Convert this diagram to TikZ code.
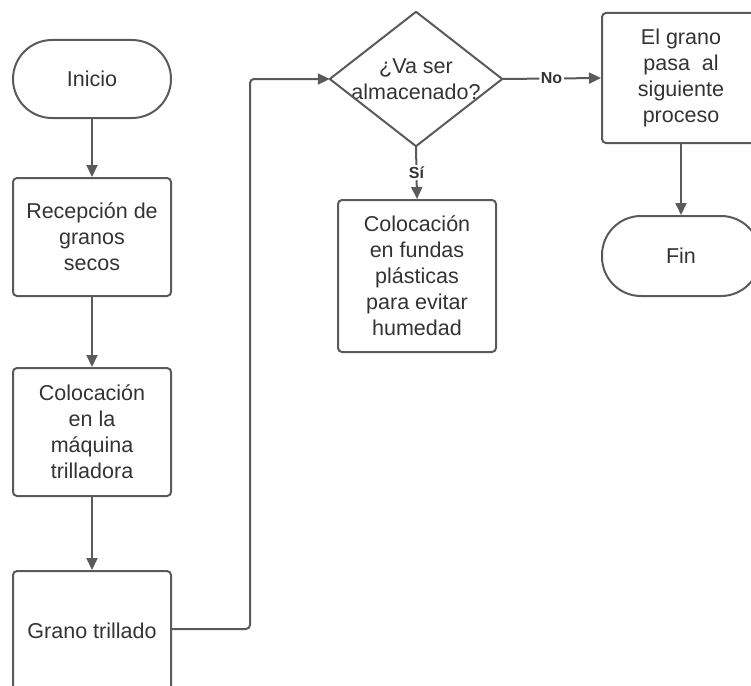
\documentclass[tikz,border=0pt]{standalone}
\usepackage{fontspec}
\setmainfont{Liberation Sans}
\usetikzlibrary{arrows.meta}
\definecolor{edge}{HTML}{5A5A5A}
\definecolor{ink}{HTML}{333333}
\begin{document}
\begin{tikzpicture}[x=1pt,y=-1pt,
  font=\fontsize{21.5}{26}\selectfont, text=ink,
  every node/.style={align=center, inner sep=0pt},
  procbox/.style={draw=edge, line width=2pt, rounded corners=4pt,
                  minimum width=158pt},
  terminal/.style={draw=edge, line width=2pt, rounded corners=39pt,
                   minimum width=158pt, minimum height=78pt},
  flow/.style={draw=edge, line width=2pt, rounded corners=4pt,
               -{Triangle[length=12pt,width=11pt]}},
  tag/.style={fill=white, inner sep=1.5pt, font=\fontsize{16}{18}\selectfont\bfseries}]
\useasboundingbox (0,0) rectangle (751,685);

% left column
\node[terminal] (inicio) at (92,79) {Inicio};
\node[procbox, minimum height=118pt] (recep) at (92,237) {Recepción de\\granos\\secos};
\node[procbox, minimum height=128pt] (coloc) at (92,432) {Colocación\\en la\\máquina\\trilladora};
\node[procbox, minimum height=124pt] (trill) at (92,633) {\raisebox{5pt}{Grano trillado}};

% decision
\node[minimum width=172pt, minimum height=134pt] (q) at (416,79) {¿Va ser\\almacenado?};
\draw[edge, line width=2pt, line join=round] (q.west) -- (q.north) -- (q.east) -- (q.south) -- cycle;

% middle and right columns
\node[procbox, minimum height=152pt] (fundas) at (417,276) {Colocación\\en fundas\\plásticas\\para evitar\\humedad};
\node[procbox, minimum height=130pt] (pasa) at (681,78) {El grano\\pasa\ \ al\\siguiente\\proceso};
\node[terminal, minimum height=80pt] (fin) at (681,256) {Fin};

% connectors
\draw[flow] (inicio.south) -- (recep.north);
\draw[flow] (recep.south) -- (coloc.north);
\draw[flow] (coloc.south) -- (trill.north);
\draw[flow] (trill.east |- 0,629) -- (250,629) -- (250,79) -- (q.west);
\draw[flow] (q.south) -- node[tag] {Sí} (fundas.north);
\draw[flow] (q.east) -- node[tag] {No} (pasa.west);
\draw[flow] (pasa.south) -- (fin.north);
\end{tikzpicture}
\end{document}
